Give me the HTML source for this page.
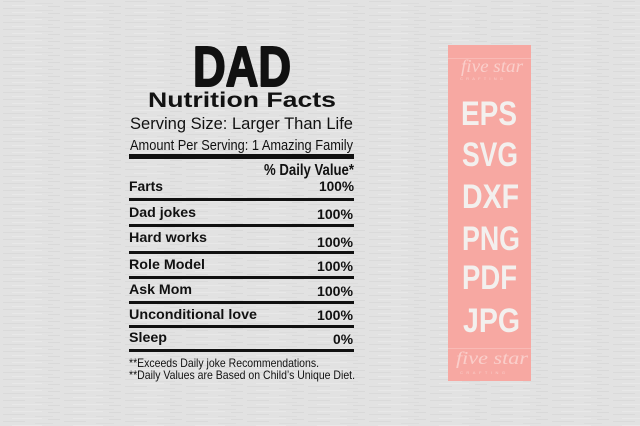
<!DOCTYPE html>
<html><head><meta charset="utf-8"><style>
html,body{margin:0;padding:0;width:640px;height:426px;overflow:hidden;background:#e2e2e2}
svg{display:block}
</style></head><body>
<svg width="640" height="426" viewBox="0 0 640 426" xmlns="http://www.w3.org/2000/svg">
<defs>
<pattern id="wood" width="61" height="7" patternUnits="userSpaceOnUse">
<rect width="61" height="7" fill="#e2e2e2"/>
<rect x="3" y="1" width="22" height="1" fill="#dadada"/>
<rect x="35" y="3" width="18" height="1" fill="#dcdcdc"/>
<rect x="12" y="5" width="30" height="1" fill="#e8e8e8"/>
<rect x="48" y="6" width="12" height="1" fill="#d9d9d9"/>
</pattern>
</defs>
<rect width="640" height="426" fill="url(#wood)"/>

<g font-family="Liberation Sans, Arial, sans-serif" fill="#111">
<text x="193" y="86" font-size="57" font-weight="bold" stroke="#111" stroke-width="2" stroke-linejoin="round" textLength="98" lengthAdjust="spacingAndGlyphs">DAD</text>
<text x="148" y="107" font-size="21" font-weight="bold" textLength="188" lengthAdjust="spacingAndGlyphs">Nutrition Facts</text>
<text x="130" y="129" font-size="16.5" textLength="223" lengthAdjust="spacingAndGlyphs">Serving Size: Larger Than Life</text>
<text x="130" y="150" font-size="15" textLength="223" lengthAdjust="spacingAndGlyphs">Amount Per Serving: 1 Amazing Family</text>
<rect x="129" y="154" width="225" height="5"/>
<text x="264" y="175" font-size="16" font-weight="bold" textLength="90" lengthAdjust="spacingAndGlyphs">% Daily Value*</text>

<g font-size="14" font-weight="bold">
<text x="129" y="191" textLength="34" lengthAdjust="spacingAndGlyphs">Farts</text>
<text x="319" y="191" textLength="35" lengthAdjust="spacingAndGlyphs">100%</text>
<text x="129" y="217" textLength="67" lengthAdjust="spacingAndGlyphs">Dad jokes</text>
<text x="317" y="219" textLength="36" lengthAdjust="spacingAndGlyphs">100%</text>
<text x="129" y="242" textLength="78" lengthAdjust="spacingAndGlyphs">Hard works</text>
<text x="317" y="247" textLength="36" lengthAdjust="spacingAndGlyphs">100%</text>
<text x="129" y="269" textLength="76" lengthAdjust="spacingAndGlyphs">Role Model</text>
<text x="317" y="271" textLength="36" lengthAdjust="spacingAndGlyphs">100%</text>
<text x="129" y="294" textLength="63" lengthAdjust="spacingAndGlyphs">Ask Mom</text>
<text x="317" y="296" textLength="36" lengthAdjust="spacingAndGlyphs">100%</text>
<text x="129" y="319" textLength="128" lengthAdjust="spacingAndGlyphs">Unconditional love</text>
<text x="317" y="320" textLength="36" lengthAdjust="spacingAndGlyphs">100%</text>
<text x="129" y="342" textLength="38" lengthAdjust="spacingAndGlyphs">Sleep</text>
<text x="333" y="344" textLength="20" lengthAdjust="spacingAndGlyphs">0%</text>
</g>

<rect x="129" y="198" width="225" height="3"/>
<rect x="129" y="224" width="225" height="3"/>
<rect x="129" y="251" width="225" height="3"/>
<rect x="129" y="276" width="225" height="3"/>
<rect x="129" y="301" width="225" height="3"/>
<rect x="129" y="325" width="225" height="3"/>
<rect x="129" y="349" width="225" height="3"/>

<text x="129" y="367" font-size="12" textLength="190" lengthAdjust="spacingAndGlyphs">**Exceeds Daily joke Recommendations.</text>
<text x="129" y="379" font-size="12" textLength="226" lengthAdjust="spacingAndGlyphs">**Daily Values are Based on Child’s Unique Diet.</text>
</g>

<rect x="448" y="45" width="83" height="336" fill="#f7a8a2"/>
<g fill="#fde8e5" opacity="0.6">
<rect x="448" y="58" width="83" height="0.5"/>
<text x="461" y="72" font-family="Liberation Serif, serif" font-style="italic" font-size="18" textLength="62" lengthAdjust="spacingAndGlyphs">five star</text>
<text x="460" y="80" font-family="Liberation Sans, sans-serif" font-size="4" textLength="43" lengthAdjust="spacing">CRAFTING</text>
<rect x="448" y="348" width="83" height="0.5"/>
<text x="456" y="364" font-family="Liberation Serif, serif" font-style="italic" font-size="18" textLength="72" lengthAdjust="spacingAndGlyphs">five star</text>
<text x="460" y="374" font-family="Liberation Sans, sans-serif" font-size="4" textLength="45" lengthAdjust="spacing">CRAFTING</text>
</g>
<g font-family="Liberation Sans, Arial, sans-serif" font-weight="bold" font-size="34" fill="#f3f0ee">
<text x="461" y="125" textLength="56" lengthAdjust="spacingAndGlyphs">EPS</text>
<text x="462" y="166" textLength="56" lengthAdjust="spacingAndGlyphs">SVG</text>
<text x="462" y="208" textLength="57" lengthAdjust="spacingAndGlyphs">DXF</text>
<text x="462" y="250" textLength="58" lengthAdjust="spacingAndGlyphs">PNG</text>
<text x="462" y="289" textLength="55" lengthAdjust="spacingAndGlyphs">PDF</text>
<text x="463" y="332" textLength="57" lengthAdjust="spacingAndGlyphs">JPG</text>
</g>
</svg>
</body></html>
